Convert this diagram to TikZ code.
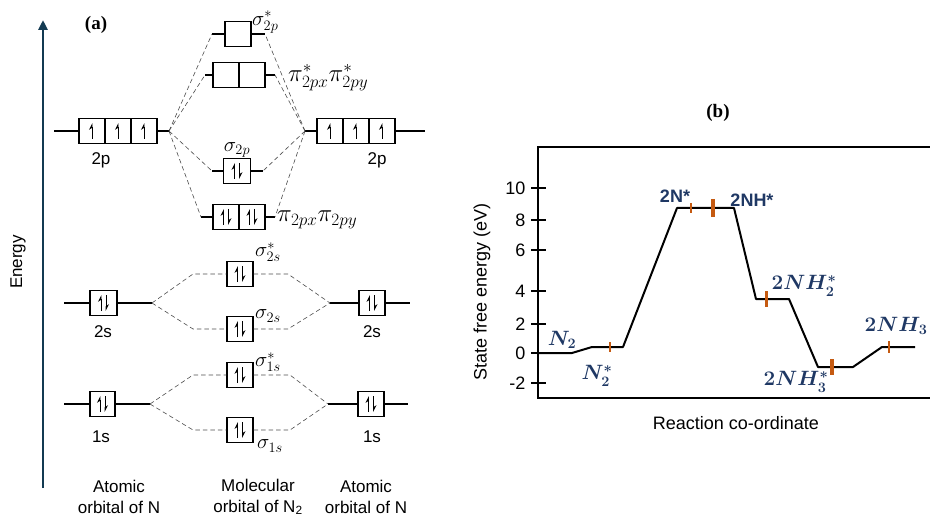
\documentclass[tikz,border=0pt]{standalone}
\usepackage{amsmath,amssymb}
\usepackage[no-math]{fontspec}
\setmainfont{Liberation Sans}
\newfontfamily\serifbf{Liberation Serif}
\usepackage{xcolor}
\usepackage{tikz}
\usetikzlibrary{arrows.meta, positioning, calc}

\definecolor{axisnavy}{HTML}{133A52}
\definecolor{barorange}{HTML}{C55A11}
\definecolor{labnavy}{HTML}{1F3864}

\begin{document}
\begin{tikzpicture}[x=1pt, y=-1pt,
  txt/.style={font=\fontsize{17}{21}\selectfont},
  molab/.style={font=\fontsize{21}{22}\selectfont},
  orb/.style={draw, line width=1.1pt, minimum width=26pt, minimum height=25pt, inner sep=0pt},
  stub/.style={line width=1.1pt},
  corr/.style={gray!60!black, line width=0.6pt, dash pattern=on 4.5pt off 3pt},
  spin/.style={line width=0.8pt, -{Stealth[harpoon, length=6pt, width=6pt]}},
  frameline/.style={line width=2.8pt},
  barmk/.style={barorange, line width=#1},
  species/.style={text=labnavy, font=\fontsize{18}{20}\selectfont\bfseries},
  speciesm/.style={text=labnavy, font=\fontsize{20}{22}\selectfont}]
  \useasboundingbox (0,0) rectangle (930,516);

  % ---------------- (a) MO diagram ----------------
  \node[font=\fontsize{19}{20}\selectfont\serifbf\bfseries] (tagA) at (96,25) {(a)};
  \draw[axisnavy, line width=2.6pt, -{Triangle[length=10pt, width=9pt]}] (43,488) -- (43,20);
  \node[txt, rotate=90] (energy) at (18,262) {Energy};

  % Atomic 2p (left and right)
  \foreach \i/\x in {a/92, b/118, c/144} \node[orb] (L2p\i) at (\x,131) {};
  \foreach \i/\x in {a/330, b/356, c/382} \node[orb] (R2p\i) at (\x,131) {};
  \coordinate (lc2p) at (169,131);
  \coordinate (rc2p) at (305,131);
  \draw[stub] (54,131) -- (L2pa.west) (L2pc.east) -- (lc2p);
  \draw[stub] (rc2p) -- (R2pa.west) (R2pc.east) -- (425,131);
  \node[txt] (lab2pL) at (101,160) {2p};
  \node[txt] (lab2pR) at (377,160) {2p};

  % Molecular 2p levels
  \node[orb] (s2ps) at (238,34) {};
  \node[orb] (p2ps1) at (226,75) {};
  \node[orb] (p2ps2) at (252,75) {};
  \node[orb, minimum width=27pt] (s2p) at (237,171) {};
  \node[orb] (p2p1) at (226,217) {};
  \node[orb] (p2p2) at (252,217) {};
  \coordinate (s2psL) at (212,34);  \coordinate (s2psR) at (265,34);
  \coordinate (p2psL) at (205,75);  \coordinate (p2psR) at (275,75);
  \coordinate (s2pL) at (212,171);  \coordinate (s2pR) at (263,171);
  \coordinate (p2pL) at (201,217);  \coordinate (p2pR) at (275,217);
  \draw[stub] (s2psL) -- (s2ps.west) (s2ps.east) -- (s2psR);
  \draw[stub] (p2psL) -- (p2ps1.west) (p2ps2.east) -- (p2psR);
  \draw[stub] (s2pL) -- (s2p.west) (s2p.east) -- (s2pR);
  \draw[stub] (p2pL) -- (p2p1.west) (p2p2.east) -- (p2pR);
  \foreach \e in {s2psL, p2psL, s2pL, p2pL} \draw[corr] (lc2p) -- (\e);
  \foreach \e in {s2psR, p2psR, s2pR, p2pR} \draw[corr] (rc2p) -- (\e);
  \node[molab, anchor=west, inner sep=0pt] (ls2ps) at (252,22) {$\sigma^{*}_{2p}$};
  \node[molab, anchor=west, inner sep=0pt, font=\fontsize{23}{24}\selectfont] (lp2ps) at (288,78) {$\pi^{*}_{2px}\pi^{*}_{2py}$};
  \node[molab] (ls2p) at (237,150) {$\sigma_{2p}$};
  \node[molab, anchor=west, inner sep=0pt, font=\fontsize{23}{24}\selectfont] (lp2p) at (277,220) {$\pi_{2px}\pi_{2py}$};

  % 2s levels
  \node[orb, minimum width=27pt] (L2s) at (103.5,303) {};
  \node[orb] (R2s) at (372,303) {};
  \node[orb] (s2ss) at (240,274) {};
  \node[orb] (s2s) at (240,329) {};
  \coordinate (lc2s) at (152,303);
  \coordinate (rc2s) at (330,303);
  \draw[stub] (64,303) -- (L2s.west) (L2s.east) -- (lc2s);
  \draw[stub] (rc2s) -- (R2s.west) (R2s.east) -- (410,303);
  \draw[corr] (lc2s) -- (193,274) -- (s2ss.west) (s2ss.east) -- (288,274) -- (rc2s);
  \draw[corr] (lc2s) -- (193,329) -- (s2s.west) (s2s.east) -- (288,329) -- (rc2s);
  \node[txt] (lab2sL) at (103,332) {2s};
  \node[txt] (lab2sR) at (372,332) {2s};
  \node[molab] (ls2ss) at (268,252) {$\sigma^{*}_{2s}$};
  \node[molab] (ls2s) at (268,316) {$\sigma_{2s}$};

  % 1s levels
  \node[orb, minimum width=25pt] (L1s) at (102.5,404) {};
  \node[orb] (R1s) at (371,404) {};
  \node[orb] (s1ss) at (240,375) {};
  \node[orb] (s1s) at (240,430) {};
  \coordinate (lc1s) at (150,404);
  \coordinate (rc1s) at (328,404);
  \draw[stub] (64,404) -- (L1s.west) (L1s.east) -- (lc1s);
  \draw[stub] (rc1s) -- (R1s.west) (R1s.east) -- (408,404);
  \draw[corr] (lc1s) -- (193,375) -- (s1ss.west) (s1ss.east) -- (290,375) -- (rc1s);
  \draw[corr] (lc1s) -- (193,430) -- (s1s.west) (s1s.east) -- (290,430) -- (rc1s);
  \node[txt] (lab1sL) at (101,437) {1s};
  \node[txt] (lab1sR) at (372,437) {1s};
  \node[molab] (ls1ss) at (268,362) {$\sigma^{*}_{1s}$};
  \node[molab] (ls1s) at (270,446) {$\sigma_{1s}$};

  % Electrons
  \foreach \c in {L2pa, L2pb, L2pc, R2pa, R2pb, R2pc}
    \draw[spin] ([yshift=-8pt]\c.center) -- ([yshift=8pt]\c.center);
  \foreach \c in {s2p, p2p1, p2p2, L2s, R2s, s2ss, s2s, L1s, R1s, s1ss, s1s} {
    \draw[spin] ([xshift=-2.5pt, yshift=-8pt]\c.center) -- ([xshift=-2.5pt, yshift=8pt]\c.center);
    \draw[spin] ([xshift=2.5pt, yshift=8pt]\c.center) -- ([xshift=2.5pt, yshift=-8pt]\c.center);
  }

  % Column captions
  \node[txt, align=center] (capL) at (119,497) {Atomic\\orbital of N};
  \node[txt, align=center] (capM) at (258,497) {Molecular\\orbital of N\textsubscript{2}};
  \node[txt, align=center] (capR) at (366,497) {Atomic\\orbital of N};

  % ---------------- (b) energy profile ----------------
  \node[font=\fontsize{19}{20}\selectfont\serifbf\bfseries] (tagB) at (718,113) {(b)};
  \draw[frameline] (930,147) -- (538,147) -- (538,398) -- (930,398);
  \foreach \yv/\lab in {188/10, 220/8, 250/6, 291/4, 324/2, 353/0, 383/-2} {
    \draw[line width=2.4pt] (531,\yv) -- (546,\yv);
    \node[anchor=east, font=\fontsize{18}{20}\selectfont] at (529,\yv) {\lab};
  }
  \node[rotate=90, font=\fontsize{18}{20}\selectfont] (ylab) at (482,292) {State free energy (eV)};
  \node[font=\fontsize{18}{20}\selectfont] (xlab) at (736,423) {Reaction co-ordinate};

  % profile
  \draw[line width=2pt, line join=round] (538,353) -- (572,353) -- (592,347) -- (623,347)
    -- (677,208) -- (734,208) -- (756,299) -- (789,299) -- (818,367) -- (853,367)
    -- (882,347) -- (915,347);
  \foreach \xp/\ya/\yb/\wd in {610/342/352/1.5pt, 691/203/213/1.5pt, 713/199/217/3.5pt,
                               766/291/307/3pt, 832/359/375/3.5pt, 889/341/353/2.5pt}
    \draw[barmk=\wd] (\xp,\ya) -- (\xp,\yb);

  % species
  \node[speciesm] (n2) at (562,340) {$\boldsymbol{N_2}$};
  \node[speciesm] (n2s) at (597,376) {$\boldsymbol{N_2^*}$};
  \node[species] (twoN) at (675,196) {2N*};
  \node[species] (twoNH) at (752,200) {2NH*};
  \node[speciesm] (nh2s) at (804,286) {$\boldsymbol{2NH_2^*}$};
  \node[speciesm] (nh3s) at (796,382) {$\boldsymbol{2NH_3^*}$};
  \node[speciesm] (nh3) at (896,326) {$\boldsymbol{2NH_3}$};
\end{tikzpicture}
\end{document}
